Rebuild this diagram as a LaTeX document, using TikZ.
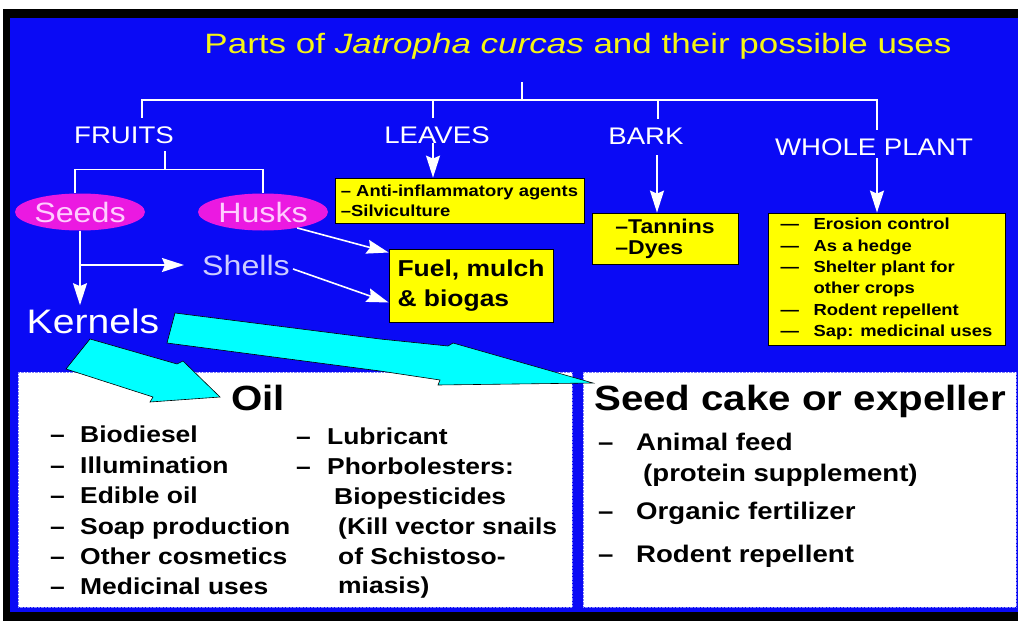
\documentclass[tikz,border=0pt]{standalone}
\usepackage{fontspec}
\setmainfont{Liberation Sans}[FakeStretch=1.15]
\newfontfamily\titlefont{Liberation Sans}[FakeStretch=1.25]
\usetikzlibrary{positioning,calc,shapes.geometric,arrows.meta}
\definecolor{slideblue}{RGB}{10,10,245}
\definecolor{boxyellow}{RGB}{255,255,0}
\definecolor{titleyellow}{RGB}{245,245,20}
\definecolor{podpink}{RGB}{235,25,225}
\definecolor{seedpink}{RGB}{255,205,255}
\definecolor{shellblue}{RGB}{205,205,255}
\definecolor{arrowcyan}{RGB}{0,255,255}

\begin{document}
\begin{tikzpicture}[x=1pt, y=-1pt,
    part/.style={text=white, inner sep=3pt, anchor=base, font=\fontsize{24}{28}\selectfont},
    pod/.style={ellipse, fill=podpink, text=seedpink, minimum width=130pt, minimum height=37pt, inner sep=0pt, font=\fontsize{28}{32}\selectfont},
    usebox/.style={draw=black, line width=0.8pt, fill=boxyellow, align=left, inner sep=0pt},
    panelhead/.style={inner sep=0pt, font=\bfseries\fontsize{35}{40}\selectfont},
    uselist/.style={inner sep=0pt, anchor=north west, align=left},
    tree/.style={draw=white, line width=1.6pt},
    warrow/.style={white, line width=1.6pt, -{Stealth[width=14pt, length=22pt, inset=3pt]}},
    blockarrow/.style={fill=arrowcyan, draw=black, line width=0.6pt}
  ]
    \useasboundingbox (0,0) rectangle (1018,621);
    \fill[white] (0,0) rectangle (1018,621);
    \fill[black] (3,9) rectangle (1018,621);
    \fill[slideblue] (10,18) rectangle (1018,612);
    \filldraw[fill=white, draw=slideblue!50, densely dotted] (18,372) rectangle (572,607);
    \filldraw[fill=white, draw=slideblue!50, densely dotted] (583,372) rectangle (1016,607);

    \node[anchor=base, text=titleyellow, font=\titlefont\fontsize{28}{32}\selectfont] (title) at (578,53) {Parts of \textit{Jatropha curcas} and their possible uses};

    \node[part] (fruits) at (124,143) {FRUITS};
    \node[part] (leaves) at (437,143) {LEAVES};
    \node[part] (bark) at (646,144) {BARK};
    \node[part] (whole) at (874,155) {WHOLE PLANT};

    \node[pod] (seeds) at (80,212) {Seeds};
    \node[pod] (husks) at (263,212) {Husks};
    \node[anchor=base, inner sep=3pt, text=shellblue, font=\fontsize{28}{32}\selectfont] (shells) at (246,275) {Shells};
    \node[anchor=base, inner sep=3pt, text=white, font=\fontsize{34}{38}\selectfont] (kernels) at (93,333) {Kernels};

    \node[usebox, minimum width=249pt, minimum height=45pt, font=\bfseries\fontsize{16}{20}\selectfont] (lvbox) at (459.5,200.5) {– Anti-inflammatory agents\\–Silviculture};
    \node[usebox, minimum width=146pt, minimum height=51pt, font=\bfseries\fontsize{20}{21}\selectfont] (bkbox) at (665,238.5) {–Tannins\\–Dyes};
    \node[usebox, minimum width=237pt, minimum height=132pt, font=\bfseries\fontsize{16}{21.4}\selectfont] (wpbox) at (886.5,279) {\makebox[33pt][l]{—}Erosion control\\\makebox[33pt][l]{—}As a hedge\\\makebox[33pt][l]{—}Shelter plant for\\\hspace*{33pt}other crops\\\makebox[33pt][l]{—}Rodent repellent\\\makebox[33pt][l]{—}Sap: medicinal uses};
    \node[usebox, minimum width=164pt, minimum height=73pt, font=\bfseries\fontsize{23}{30}\selectfont] (fuelbox) at (471,285.5) {Fuel, mulch\\\& biogas};

    \coordinate (root) at (522,82);
    \coordinate (hub) at (522,100);
    \draw[tree] (root) -- (hub);
    \draw[tree] (hub) -| ([xshift=18pt, yshift=5pt]fruits.north);
    \draw[tree] (hub) -| ([xshift=-4pt, yshift=5pt]leaves.north);
    \draw[tree] (hub) -| ([xshift=12pt, yshift=5pt]bark.north);
    \draw[tree] (hub) -| ([xshift=3pt, yshift=5pt]whole.north);

    \draw[tree] ([xshift=41pt, yshift=-5pt]fruits.south) -- ++(0,18) coordinate (fhub);
    \draw[tree] (fhub) -| ([xshift=-5pt]seeds.north);
    \draw[tree] (fhub) -| (husks.north);

    \draw[warrow] ([xshift=-4pt, yshift=3pt]leaves.south) -- ([xshift=-4pt]leaves.south |- lvbox.north);
    \draw[warrow] ([xshift=11pt, yshift=-8pt]bark.south) -- ([xshift=11pt]bark.south |- bkbox.north);
    \draw[warrow] ([xshift=3pt]whole.south) -- ([xshift=3pt]whole.south |- wpbox.north);
    \draw[warrow] (seeds.south) -- (seeds.south |- kernels.north);
    \draw[warrow] (seeds.south |- shells.west) -- ([xshift=-15pt]shells.west);
    \draw[warrow] ([yshift=-4pt]shells.east) -- ([yshift=-17pt]fuelbox.west);
    \draw[warrow] (husks.-25) -- ([yshift=33pt]fuelbox.west);

    \node[panelhead, anchor=base] (oil) at (258,410) {Oil};
    \node[panelhead, anchor=base west] (cake) at (594,410) {Seed cake or expeller};

    \node[uselist, font=\bfseries\fontsize{23}{30.4}\selectfont] (oiluses) at (50,426) {\makebox[30pt][l]{–}Biodiesel\\\makebox[30pt][l]{–}Illumination\\\makebox[30pt][l]{–}Edible oil\\\makebox[30pt][l]{–}Soap production\\\makebox[30pt][l]{–}Other cosmetics\\\makebox[30pt][l]{–}Medicinal uses};
    \node[uselist, font=\bfseries\fontsize{23}{29.8}\selectfont] (oilmore) at (296,428) {\makebox[31pt][l]{–}Lubricant\\\makebox[31pt][l]{–}Phorbolesters:\\\hspace*{38pt}Biopesticides\\\hspace*{42pt}(Kill vector snails\\\hspace*{42pt}of Schistoso-\\\hspace*{42pt}miasis)};
    \node[uselist, font=\bfseries\fontsize{24}{31}\selectfont] (cakeuses) at (598,433) {\makebox[38pt][l]{–}Animal feed\\\hspace*{45pt}(protein supplement)\\[7pt]\makebox[38pt][l]{–}Organic fertilizer\\[12pt]\makebox[38pt][l]{–}Rodent repellent};

    \draw[blockarrow] (90,339) -- (177,364) -- (183,361) -- (220,397) -- (150,402) -- (153,397) -- (66,369) -- cycle;
    \draw[blockarrow] (175,313) -- (380,339) -- (448,346) -- (453,343) -- (593,383) -- (438,385) -- (440,380) -- (380,371) -- (167,343) -- cycle;

  \end{tikzpicture}
\end{document}
